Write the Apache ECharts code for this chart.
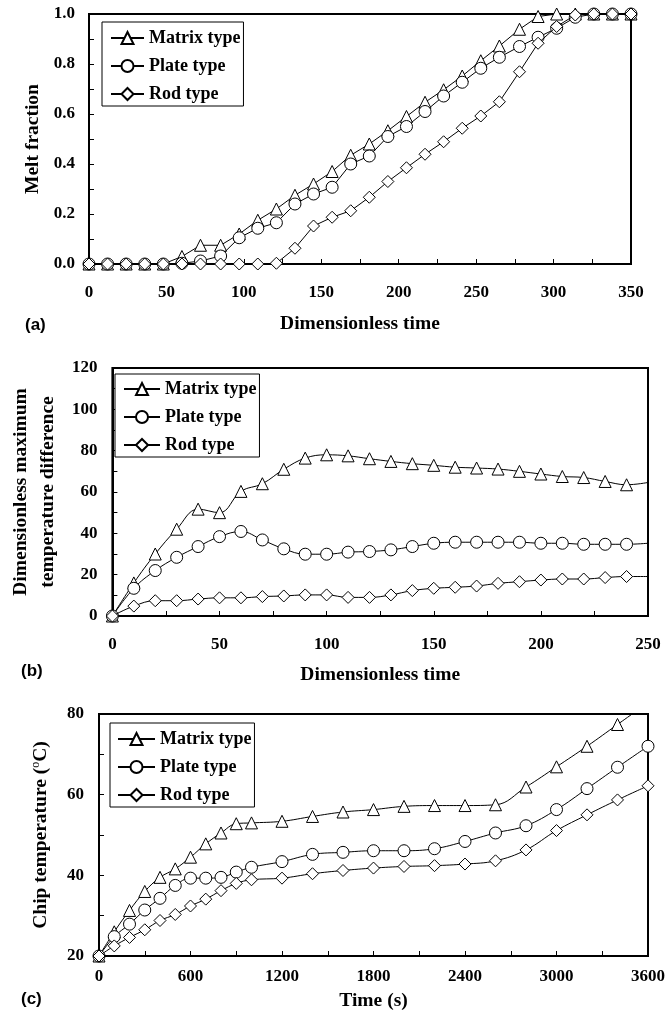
<!DOCTYPE html>
<html>
<head>
<meta charset="utf-8">
<script src="https://cdn.jsdelivr.net/npm/echarts@6/dist/echarts.min.js"></script>
<style>
html,body{margin:0;padding:0;background:#fff;}
#chart{width:668px;height:1014px;}
</style>
</head>
<body>
<div id="chart"></div>
<script>
// ---------- Data ----------
const seriesNames = ['Matrix type', 'Plate type', 'Rod type'];

// Panel (a): melt fraction vs dimensionless time
const timeA = [0, 12, 24, 36, 48, 60, 72, 85, 97, 109, 121, 133, 145, 157, 169, 181, 193, 205, 217, 229, 241, 253, 265, 278, 290, 302, 314, 326, 338, 350];
const matrixA = [0, 0, 0, 0, 0, 0.03, 0.075, 0.075, 0.12, 0.175, 0.22, 0.275, 0.32, 0.37, 0.435, 0.48, 0.533, 0.59, 0.647, 0.697, 0.752, 0.813, 0.872, 0.939, 0.99, 1, 1, 1, 1, 1];
const plateA = [0, 0, 0, 0, 0, 0.003, 0.012, 0.032, 0.105, 0.143, 0.165, 0.24, 0.28, 0.307, 0.40, 0.432, 0.51, 0.55, 0.61, 0.672, 0.727, 0.783, 0.827, 0.87, 0.907, 0.943, 0.987, 1, 1, 1];
const rodA = [0, 0, 0, 0, 0, 0, 0, 0, 0, 0, 0.003, 0.063, 0.152, 0.187, 0.213, 0.267, 0.33, 0.385, 0.439, 0.489, 0.543, 0.592, 0.649, 0.769, 0.883, 0.95, 0.996, 1, 1, 1];

// Panel (b): dimensionless maximum temperature difference (last point at 250 has no marker)
const timeB = [0, 10, 20, 30, 40, 50, 60, 70, 80, 90, 100, 110, 120, 130, 140, 150, 160, 170, 180, 190, 200, 210, 220, 230, 240, 250];
const matrixB = [0, 16, 30, 42, 51.7, 50, 60.3, 64, 71, 76.4, 78, 77.5, 76.1, 74.8, 73.7, 72.9, 72, 71.6, 71.1, 70, 68.7, 67.5, 67, 65.1, 63.5, 64.6];
const plateB = [0, 13.4, 22, 28.4, 33.6, 38.4, 40.9, 36.8, 32.5, 29.9, 29.9, 30.9, 31.2, 32, 33.6, 35.2, 35.7, 35.7, 35.7, 35.7, 35.2, 35.2, 34.7, 34.7, 34.7, 35.2];
const rodB = [0, 4.8, 7.4, 7.4, 8.2, 8.8, 8.8, 9.4, 9.7, 10.2, 10.2, 9, 9, 10.2, 12.3, 13.4, 13.9, 14.5, 15.8, 16.6, 17.4, 17.9, 17.9, 18.6, 19.1, 19.1];

// Panel (c): chip temperature vs time (s)
const timeC = [0, 100, 200, 300, 400, 500, 600, 700, 800, 900, 1000, 1200, 1400, 1600, 1800, 2000, 2200, 2400, 2600, 2800, 3000, 3200, 3400, 3600];
const matrixC = [20, 26, 31.3, 36, 39.5, 41.6, 44.5, 47.8, 50.5, 52.8, 53, 53.4, 54.6, 55.7, 56.3, 57.1, 57.3, 57.3, 57.5, 61.9, 66.9, 72, 77.4, 82.8];
const plateC = [20, 24.8, 27.9, 31.4, 34.3, 37.5, 39.3, 39.3, 39.5, 40.8, 42, 43.4, 45.2, 45.7, 46.1, 46.1, 46.6, 48.4, 50.5, 52.3, 56.3, 61.5, 66.8, 72];
const rodC = [20, 22.5, 24.6, 26.5, 28.8, 30.3, 32.4, 34.1, 36.2, 38, 38.9, 39.3, 40.4, 41.2, 41.8, 42.2, 42.4, 42.8, 43.6, 46.3, 51.1, 55, 58.7, 62.2];

// ---------- Styling helpers ----------
const SERIF = '"Liberation Serif", "Times New Roman", serif';
const symbols = ['triangle', 'circle', 'diamond'];

function pairs(xs, ys, noMarkerLast) {
  return xs.map((x, i) => {
    if (noMarkerLast && i === xs.length - 1) {
      return { value: [x, ys[i]], symbol: 'none' };
    }
    return [x, ys[i]];
  });
}

function mkSeries(idx, xs, ys, smooth, noMarkerLast) {
  const out = [];
  ys.forEach((arr, k) => {
    out.push({
      type: 'line',
      name: seriesNames[k],
      xAxisIndex: idx,
      yAxisIndex: idx,
      data: pairs(xs, arr, noMarkerLast),
      symbol: symbols[k],
      symbolSize: 12,
      smooth: smooth,
      clip: true,
      showAllSymbol: true,
      animation: false,
      lineStyle: { color: '#000', width: 1 },
      itemStyle: { color: '#fff', borderColor: '#000', borderWidth: 1 },
      emphasis: { disabled: true },
      z: 3 + k
    });
  });
  return out;
}

const labelStyle = { color: '#000', fontFamily: SERIF, fontWeight: 'bold', fontSize: 17 };
const nameStyle = { color: '#000', fontFamily: SERIF, fontWeight: 'bold', fontSize: 19.5 };

function xAxis(idx, min, max, interval, name, nameGap, margin) {
  return {
    type: 'value', gridIndex: idx, min: min, max: max, interval: interval,
    name: name, nameLocation: 'middle', nameGap: nameGap, nameTextStyle: nameStyle,
    axisLine: { show: true, onZero: false, lineStyle: { color: '#000', width: 2 } },
    axisTick: { show: true, inside: true, length: 5, lineStyle: { color: '#000', width: 1 } },
    minorTick: { show: true, splitNumber: 2, length: 5, lineStyle: { color: '#000', width: 1 } },
    axisLabel: Object.assign({ margin: margin, formatter: v => String(v) }, labelStyle),
    splitLine: { show: false }
  };
}
function yAxis(idx, min, max, interval, name, nameGap, margin, fmt, nameTS) {
  return {
    type: 'value', gridIndex: idx, min: min, max: max, interval: interval,
    name: name, nameLocation: 'middle', nameGap: nameGap, nameTextStyle: nameTS || nameStyle,
    axisLine: { show: true, onZero: false, lineStyle: { color: '#000', width: 2 } },
    axisTick: { show: true, inside: true, length: 5, lineStyle: { color: '#000', width: 1 } },
    minorTick: { show: true, splitNumber: 2, length: 5, lineStyle: { color: '#000', width: 1 } },
    axisLabel: Object.assign({ margin: margin, formatter: fmt }, labelStyle),
    splitLine: { show: false }
  };
}

function legend(left, top, padding, itemWidth) {
  return {
    data: seriesNames, orient: 'vertical', left: left, top: top,
    padding: padding, itemGap: 10, itemWidth: itemWidth, itemHeight: 15,
    borderColor: '#000', borderWidth: 1, backgroundColor: '#fff',
    selectedMode: false,
    textStyle: { color: '#000', fontFamily: SERIF, fontWeight: 'bold', fontSize: 18 }
  };
}

const gridBase = { show: true, borderColor: '#000', borderWidth: 2, backgroundColor: 'transparent', containLabel: false };

const option = {
  backgroundColor: '#fff',
  animation: false,
  grid: [
    Object.assign({ left: 89, top: 14, width: 542, height: 250 }, gridBase),
    Object.assign({ left: 107, top: 368, width: 541, height: 248 }, gridBase),
    Object.assign({ left: 99, top: 714, width: 555, height: 242 }, gridBase)
  ],
  xAxis: [
    xAxis(0, 0, 350, 50, 'Dimensionless time', 50, 20),
    xAxis(1, 0, 250, 50, 'Dimensionless time', 49, 20),
    xAxis(2, 0, 3600, 600, 'Time (s)', 35, 12)
  ],
  yAxis: [
    yAxis(0, 0, 1, 0.2, 'Melt fraction', 46, 14, v => v.toFixed(1)),
    yAxis(1, 0, 120, 20, 'Dimensionless maximum\ntemperature difference', 50, 15, v => String(v),
      Object.assign({}, nameStyle, { lineHeight: 26.5 })),
    yAxis(2, 20, 80, 20, 'Chip temperature ({sup|o}C)', 47, 15, v => String(v),
      Object.assign({}, nameStyle, {
        lineHeight: 22,
        rich: { sup: { fontSize: 12, fontFamily: SERIF, fontWeight: 'normal', color: '#000', verticalAlign: 'top', lineHeight: 22, padding: [0, 0, 8, 0] } }
      }))
  ],
  legend: [
    legend(102, 22, [7, 3, 3, 8], 33),
    legend(115, 374, [6, 3, 3, 8], 36),
    legend(110, 723, [7, 3, 3, 7], 37)
  ],
  graphic: [
    { type: 'text', left: 25, top: 317, style: { text: '(a)', fill: '#000', font: 'bold 17px "Liberation Sans", Arial, sans-serif' } },
    { type: 'text', left: 21, top: 663, style: { text: '(b)', fill: '#000', font: 'bold 17px "Liberation Sans", Arial, sans-serif' } },
    { type: 'text', left: 21, top: 991, style: { text: '(c)', fill: '#000', font: 'bold 17px "Liberation Sans", Arial, sans-serif' } }
  ],
  series: [].concat(
    mkSeries(0, timeA, [matrixA, plateA, rodA], false, false),
    mkSeries(1, timeB, [matrixB, plateB, rodB], 0.4, true),
    mkSeries(2, timeC, [matrixC, plateC, rodC], 0.4, false).map((s, k) => {
      if (k === 0) {
        s.data[s.data.length - 1] = { value: [timeC[timeC.length - 1], matrixC[matrixC.length - 1]], symbol: 'none' };
      }
      return s;
    })
  )
};

const chart = echarts.init(document.getElementById('chart'), null, { renderer: 'canvas' });
chart.setOption(option);
</script>
</body>
</html>
